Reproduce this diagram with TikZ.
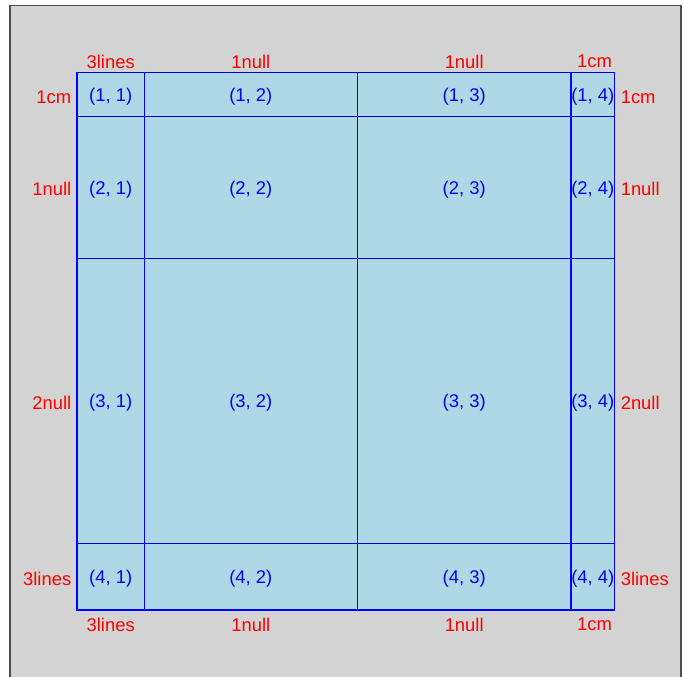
\documentclass[tikz,border=0pt]{standalone}
\usepackage{fontspec}
\setmainfont{Liberation Sans}
\definecolor{bgray}{HTML}{D3D3D3}
\definecolor{frame}{HTML}{4D4D4D}
\definecolor{cellfill}{HTML}{ADD8E6}
\definecolor{gridblue}{HTML}{0000FF}
\definecolor{lblred}{HTML}{FF0000}
\begin{document}
\begin{tikzpicture}[x=0.75pt,y=-0.75pt,
  celltext/.style={text=gridblue,font=\fontsize{13.8}{16}\selectfont,inner sep=0pt},
  lbl/.style={text=lblred,font=\fontsize{13.8}{16}\selectfont,inner sep=0pt},
  gridline/.style={draw=gridblue,line width=1.1pt}]
\useasboundingbox (0,0) rectangle (685,677);
\fill[white] (0,0) rectangle (685,677);
\draw[frame,fill=bgray,line width=1pt] (10,760) -- (10,5.5) -- (681,5.5) -- (681,760);
% grid
\def\xa{77}\def\xb{144.3}\def\xc{357.3}\def\xd{571}\def\xe{614.5}
\def\ya{72.7}\def\yb{116.7}\def\yc{258.7}\def\yd{543.3}\def\ye{610}
\fill[cellfill] (\xa,\ya) rectangle (\xe,\ye);
\draw[gridline] (\xa,\ya) rectangle (\xe,\ye);
\foreach \x in {\xb,\xc,\xd} \draw[gridline] (\x,\ya) -- (\x,\ye);
\foreach \y in {\yb,\yc,\yd} \draw[gridline] (\xa,\y) -- (\xe,\y);
% cell labels
\foreach \r/\yy in {1/97,2/189.5,3/403,4/578.5}{
  \foreach \c/\xx in {1/110.7,2/250.8,3/464.2,4/592.8}{
    \node[celltext] (c\r\c) at (\xx,\yy) {(\r, \c)};
  }
}
% column labels
\foreach \c/\xx/\t in {1/110.7/3lines,2/250.8/1null,3/464.2/1null,4/594.5/1cm}{
  \node[lbl] (top\c) at (\xx,61.5) {\t};
  \node[lbl] (bot\c) at (\xx,624.5) {\t};
}
% row labels
\foreach \r/\yy/\t in {1/97/1cm,2/189/1null,3/403/2null,4/578.5/3lines}{
  \node[lbl,anchor=east] (left\r) at (71.5,\yy) {\t};
  \node[lbl,anchor=west] (right\r) at (620.5,\yy) {\t};
}
\end{tikzpicture}
\end{document}
